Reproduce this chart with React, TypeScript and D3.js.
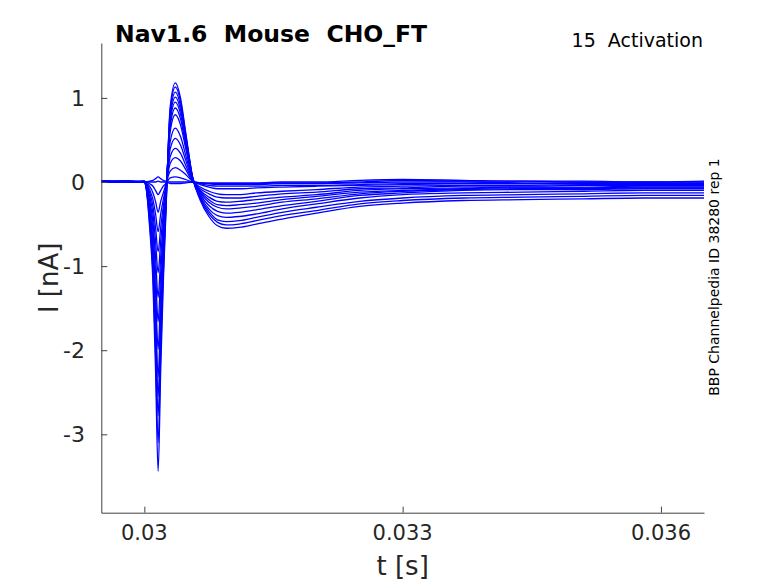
import { useEffect, useRef } from "react";
import * as d3 from "d3";

const title = "Nav1.6  Mouse  CHO_FT";
const protocolLabel = "15  Activation";
const sideLabel = "BBP Channelpedia ID 38280 rep 1";
const xLabel = "t [s]";
const yLabel = "I [nA]";

const xTicks = [0.03, 0.033, 0.036];
const yTicks = [-3, -2, -1, 0, 1];

// sample times [s], dense around the step
const time = [
  0.0295, 0.0298, 0.03, 0.03002, 0.03006, 0.0301, 0.03013, 0.03016, 0.03019, 0.03022, 0.03025,
  0.0303, 0.03036, 0.03042, 0.03048, 0.03056, 0.03065, 0.03075, 0.03085, 0.03095,
  0.0311, 0.0313, 0.0316, 0.032, 0.0325, 0.033, 0.0337, 0.0344, 0.0351, 0.0358, 0.0365,
];

// current [nA] per sweep
const sweep01 = [0.01, 0.0, 0.0, 0.0, 0.0, 0.0, 0.0, 0.01, 0.0, 0.0, 0.0, 0.0, 0.0, 0.0, 0.0, 0.0, -0.01, -0.01, -0.01, -0.01, -0.01, -0.01, 0.0, 0.0, 0.02, 0.03, 0.02, 0.01, 0.01, 0.0, 0.01];
const sweep02 = [0.0, 0.01, 0.0, 0.0, 0.01, 0.02, 0.04, 0.06, 0.04, 0.02, 0.01, -0.02, -0.02, -0.02, -0.01, 0.0, -0.01, -0.02, -0.02, -0.02, -0.02, -0.02, -0.01, -0.01, 0.0, 0.02, 0.01, 0.01, 0.0, 0.0, 0.0];
const sweep03 = [0.01, 0.01, 0.0, 0.0, -0.02, -0.05, -0.1, -0.15, -0.1, -0.05, -0.02, 0.05, 0.06, 0.05, 0.03, 0.0, -0.01, -0.02, -0.03, -0.03, -0.03, -0.03, -0.02, -0.02, -0.01, 0.0, 0.0, -0.01, -0.01, -0.01, -0.01];
const sweep04 = [0.0, 0.0, 0.01, -0.01, -0.05, -0.13, -0.23, -0.36, -0.23, -0.13, -0.03, 0.13, 0.17, 0.14, 0.09, 0.01, -0.02, -0.04, -0.05, -0.05, -0.05, -0.05, -0.04, -0.04, -0.03, -0.02, -0.02, -0.02, -0.01, -0.02, -0.02];
const sweep05 = [0.01, 0.0, 0.0, -0.01, -0.09, -0.21, -0.38, -0.59, -0.38, -0.21, -0.05, 0.22, 0.29, 0.25, 0.15, 0.01, -0.03, -0.06, -0.08, -0.08, -0.08, -0.07, -0.06, -0.05, -0.04, -0.03, -0.02, -0.02, -0.02, -0.02, -0.02];
const sweep06 = [0.0, 0.01, 0.0, -0.02, -0.12, -0.29, -0.54, -0.83, -0.54, -0.29, -0.07, 0.3, 0.4, 0.34, 0.2, 0.02, -0.06, -0.11, -0.14, -0.15, -0.15, -0.13, -0.11, -0.09, -0.06, -0.05, -0.04, -0.04, -0.03, -0.03, -0.03];
const sweep07 = [0.01, 0.0, 0.01, -0.02, -0.16, -0.38, -0.7, -1.08, -0.7, -0.38, -0.09, 0.39, 0.52, 0.44, 0.26, 0.03, -0.08, -0.14, -0.18, -0.19, -0.19, -0.17, -0.14, -0.12, -0.08, -0.07, -0.05, -0.05, -0.04, -0.04, -0.04];
const sweep08 = [0.0, 0.0, 0.0, -0.03, -0.21, -0.48, -0.89, -1.37, -0.89, -0.48, -0.11, 0.48, 0.64, 0.54, 0.32, 0.03, -0.1, -0.18, -0.23, -0.24, -0.23, -0.21, -0.18, -0.15, -0.1, -0.08, -0.07, -0.06, -0.06, -0.05, -0.05];
const sweep09 = [0.01, 0.01, 0.0, -0.03, -0.25, -0.58, -1.08, -1.66, -1.08, -0.58, -0.13, 0.6, 0.8, 0.68, 0.4, 0.04, -0.11, -0.21, -0.27, -0.28, -0.27, -0.25, -0.21, -0.17, -0.12, -0.1, -0.08, -0.07, -0.07, -0.06, -0.06];
const sweep10 = [0.0, 0.0, 0.01, -0.04, -0.3, -0.7, -1.29, -1.99, -1.29, -0.7, -0.18, 0.66, 0.88, 0.75, 0.44, 0.04, -0.13, -0.24, -0.3, -0.32, -0.31, -0.29, -0.24, -0.2, -0.14, -0.11, -0.09, -0.08, -0.08, -0.07, -0.07];
const sweep11 = [0.01, 0.0, 0.0, -0.05, -0.35, -0.81, -1.51, -2.32, -1.51, -0.81, -0.22, 0.71, 0.95, 0.81, 0.48, 0.05, -0.15, -0.28, -0.35, -0.37, -0.36, -0.33, -0.28, -0.23, -0.16, -0.13, -0.1, -0.09, -0.09, -0.08, -0.08];
const sweep12 = [0.0, 0.01, 0.0, -0.05, -0.38, -0.89, -1.66, -2.55, -1.66, -0.89, -0.26, 0.76, 1.01, 0.86, 0.51, 0.05, -0.17, -0.32, -0.4, -0.42, -0.41, -0.38, -0.32, -0.26, -0.19, -0.15, -0.13, -0.12, -0.11, -0.1, -0.1];
const sweep13 = [0.01, 0.0, 0.0, -0.06, -0.42, -0.97, -1.81, -2.78, -1.81, -0.97, -0.29, 0.8, 1.07, 0.91, 0.54, 0.05, -0.19, -0.35, -0.45, -0.47, -0.46, -0.42, -0.36, -0.3, -0.23, -0.19, -0.16, -0.15, -0.14, -0.13, -0.13];
const sweep14 = [0.0, 0.0, 0.01, -0.06, -0.47, -1.09, -2.02, -3.1, -2.02, -1.09, -0.34, 0.85, 1.13, 0.96, 0.57, 0.06, -0.2, -0.38, -0.48, -0.51, -0.5, -0.46, -0.4, -0.34, -0.26, -0.22, -0.19, -0.18, -0.17, -0.16, -0.16];
const sweep15 = [0.01, 0.01, 0.0, -0.07, -0.52, -1.2, -2.24, -3.44, -2.24, -1.2, -0.39, 0.89, 1.18, 1.0, 0.59, 0.06, -0.22, -0.41, -0.52, -0.55, -0.54, -0.5, -0.44, -0.37, -0.29, -0.25, -0.22, -0.21, -0.2, -0.19, -0.19];

const sweeps = [
  sweep01, sweep02, sweep03, sweep04, sweep05, sweep06, sweep07, sweep08,
  sweep09, sweep10, sweep11, sweep12, sweep13, sweep14, sweep15,
];

const font = "DejaVu Sans, sans-serif";

export default function App() {
  const ref = useRef<SVGSVGElement | null>(null);

  useEffect(() => {
    if (!ref.current) return;
    const svg = d3.select(ref.current);
    svg.selectAll("*").remove();

    const left = 101.3, right = 704, top = 43, bottom = 512.7;

    const x = d3.scaleLinear().domain([0.0295, 0.0365]).range([left, right]);
    const y = d3.scaleLinear().domain([-3.932, 1.653]).range([bottom, top]);

    // traces
    const line = d3
      .line<number>()
      .x((_, i) => x(time[i]))
      .y((d) => y(d))
      .curve(d3.curveMonotoneX);

    svg
      .append("g")
      .selectAll("path")
      .data(sweeps)
      .enter()
      .append("path")
      .attr("d", (d) => line(d))
      .attr("fill", "none")
      .attr("stroke", "#0000ff")
      .attr("stroke-width", 1.3);

    // axes (ticks point inward, like matlab)
    const axisColor = "#404040";
    const gx = svg
      .append("g")
      .attr("transform", `translate(0,${bottom})`)
      .call(d3.axisBottom(x).tickValues(xTicks).tickSize(-6).tickSizeOuter(0).tickFormat(() => ""));
    const gy = svg
      .append("g")
      .attr("transform", `translate(${left},0)`)
      .call(d3.axisLeft(y).tickValues(yTicks).tickSize(-6).tickSizeOuter(0).tickFormat(() => ""));
    [gx, gy].forEach((g) => {
      g.select(".domain").attr("stroke", axisColor);
      g.selectAll(".tick line").attr("stroke", axisColor);
    });

    // tick labels
    svg
      .append("g")
      .selectAll("text")
      .data(xTicks)
      .enter()
      .append("text")
      .attr("x", (d) => x(d))
      .attr("y", 540)
      .attr("text-anchor", "middle")
      .attr("font-family", font)
      .attr("font-size", 21)
      .attr("fill", "#262626")
      .text((d) => String(d));

    svg
      .append("g")
      .selectAll("text")
      .data(yTicks)
      .enter()
      .append("text")
      .attr("x", 85)
      .attr("y", (d) => y(d))
      .attr("dy", "0.36em")
      .attr("text-anchor", "end")
      .attr("font-family", font)
      .attr("font-size", 22)
      .attr("fill", "#262626")
      .text((d) => String(d));

    // axis labels
    svg
      .append("text")
      .attr("x", (left + right) / 2)
      .attr("y", 575)
      .attr("text-anchor", "middle")
      .attr("font-family", font)
      .attr("font-size", 26)
      .attr("fill", "#262626")
      .text(xLabel);

    svg
      .append("text")
      .attr("transform", `translate(58,${(top + bottom) / 2}) rotate(-90)`)
      .attr("text-anchor", "middle")
      .attr("font-family", font)
      .attr("font-size", 26)
      .attr("fill", "#262626")
      .text(yLabel);

    // title + annotations
    svg
      .append("text")
      .attr("x", 115)
      .attr("y", 42)
      .attr("font-family", font)
      .attr("font-size", 23.5)
      .attr("font-weight", "bold")
      .attr("fill", "#000")
      .style("white-space", "pre")
      .text(title);

    svg
      .append("text")
      .attr("x", 703)
      .attr("y", 47)
      .attr("text-anchor", "end")
      .attr("font-family", font)
      .attr("font-size", 19)
      .attr("fill", "#000")
      .style("white-space", "pre")
      .text(protocolLabel);

    svg
      .append("text")
      .attr("transform", `translate(719,277) rotate(-90)`)
      .attr("text-anchor", "middle")
      .attr("font-family", font)
      .attr("font-size", 14)
      .attr("fill", "#000")
      .text(sideLabel);
  }, []);

  return (
    <svg
      ref={ref}
      width={778}
      height={583}
      style={{ position: "absolute", left: 0, top: 0, background: "#fff" }}
    />
  );
}
